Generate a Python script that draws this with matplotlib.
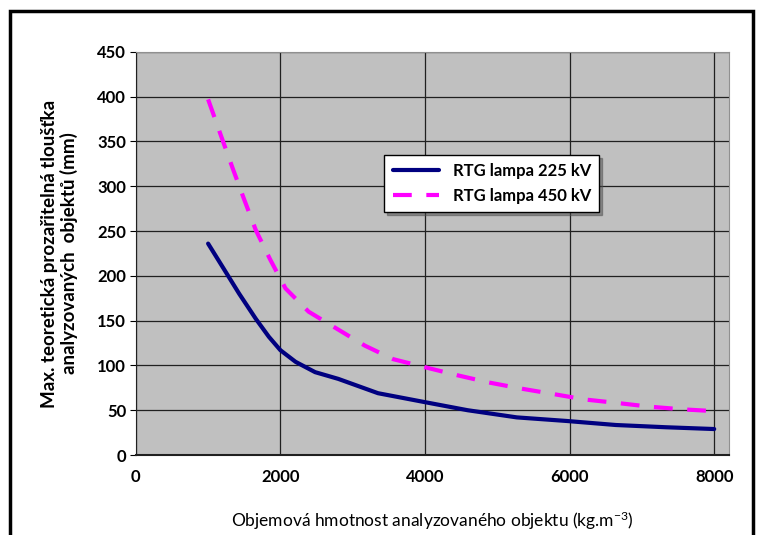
import matplotlib.pyplot as plt
from matplotlib.patches import Rectangle

# Data
hustota_225 = [1000, 1200, 1430, 1660, 1840, 2000, 2210, 2480, 2800, 3350,
               4000, 4590, 5270, 5960, 6640, 7330, 8000]
lampa_225 = [236, 210, 180, 152, 132, 117, 104, 92.5, 85, 69,
             59, 50, 42, 38, 33.5, 31, 29]
hustota_450 = [1000, 1180, 1340, 1500, 1660, 1860, 2070, 2390, 2780, 3170,
               3560, 4000, 4450, 4880, 5340, 5780, 6210, 6670, 7100, 7560, 8000]
lampa_450 = [397, 356, 320, 285, 251, 218, 186, 160, 141, 122,
             107, 98, 89, 81, 74, 68, 62, 58, 54, 51, 49]
x_ticks = [0, 2000, 4000, 6000, 8000]
y_ticks = [0, 50, 100, 150, 200, 250, 300, 350, 400, 450]

plt.rcParams['font.family'] = ['Lato', 'DejaVu Sans']
plt.rcParams['font.weight'] = 'bold'
plt.rcParams['mathtext.default'] = 'regular'

fig = plt.figure(figsize=(7.63, 5.35), dpi=100)
ax = fig.add_axes([0.178, 0.1495, 0.777, 0.7535])
ax.set_facecolor('#c0c0c0')

ax.plot(hustota_225, lampa_225, color='#000080', lw=3, label='RTG lampa 225 kV',
        solid_capstyle='round', solid_joinstyle='round')
ax.plot(hustota_450, lampa_450, color='#ff00ff', lw=3, ls=(0, (4.5, 3.5)),
        label='RTG lampa 450 kV')

ax.set_xlim(0, 8200)
ax.set_ylim(0, 450)
ax.set_xticks(x_ticks)
ax.set_yticks(y_ticks)
ax.grid(True, color='#202020', lw=0.9)
ax.set_axisbelow(True)
ax.tick_params(axis='both', labelsize=12)
ax.tick_params(axis='x', length=0, pad=10)
ax.tick_params(axis='y', length=4, pad=3)
ax.spines['left'].set_color('#202020')
ax.spines['bottom'].set_color('#202020')
ax.spines['bottom'].set_linewidth(1.5)
ax.spines['top'].set_color('#909090')
ax.spines['right'].set_color('#909090')

ax.set_ylabel('Max. teoretická prozařitelná tloušťka\nanalyzovaných  objektů (mm)',
              fontsize=13.5, fontweight='bold', labelpad=14, linespacing=1.1)
ax.set_xlabel('Objemová hmotnost analyzovaného objektu (kg.m$^{-3}$)',
              fontsize=12.5, fontweight='normal', labelpad=18)

leg = ax.legend(loc='upper left', bbox_to_anchor=(0.405, 0.765), fontsize=12,
                frameon=True, fancybox=False, shadow=True, handlelength=2.8,
                borderpad=0.5, labelspacing=0.5)
leg.get_frame().set_edgecolor('black')
leg.get_frame().set_facecolor('white')
leg.get_frame().set_alpha(1)

# Outer frame of the chart
fig.patches.append(Rectangle((0.013, -0.02), 0.974, 1.0, transform=fig.transFigure,
                             fill=False, edgecolor='black', lw=2.5))

fig.savefig('out.png', dpi=100)
